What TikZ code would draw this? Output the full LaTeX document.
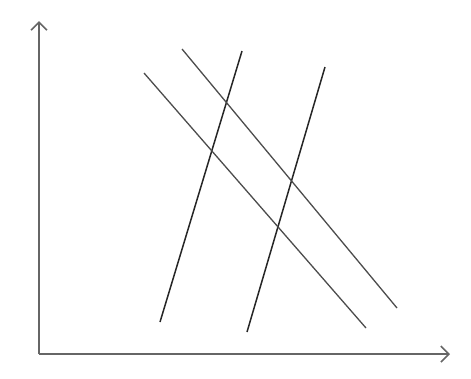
\documentclass[tikz,border=0pt]{standalone}
\usetikzlibrary{arrows.meta}
\begin{document}
\begin{tikzpicture}[x=1pt,y=-1pt,
  axis/.style={draw=black!60,line width=1.6pt,-{Straight Barb[length=8pt,width=16pt]}},
  curve/.style={draw=black!85,line width=1.5pt}]
\useasboundingbox (0,0) rectangle (471,378);
\coordinate (O) at (39,354);
\coordinate (ytop) at (39,21);
\coordinate (xend) at (450,354);
\draw[axis] (O) -- (ytop);
\draw[axis] (O) -- (xend);
\coordinate (s1t) at (242,51);
\coordinate (s1b) at (160,322);
\coordinate (s2t) at (325,67);
\coordinate (s2b) at (247,332);
\coordinate (dat) at (144,73);
\coordinate (dab) at (366,328);
\coordinate (dbt) at (182,49);
\coordinate (dbb) at (397,308);
\draw[curve] (s1b) -- (s1t);
\draw[curve] (s2b) -- (s2t);
\draw[curve,draw=black!70,line width=1.3pt] (dat) -- (dab);
\draw[curve,draw=black!70,line width=1.3pt] (dbt) -- (dbb);
\end{tikzpicture}
\end{document}
